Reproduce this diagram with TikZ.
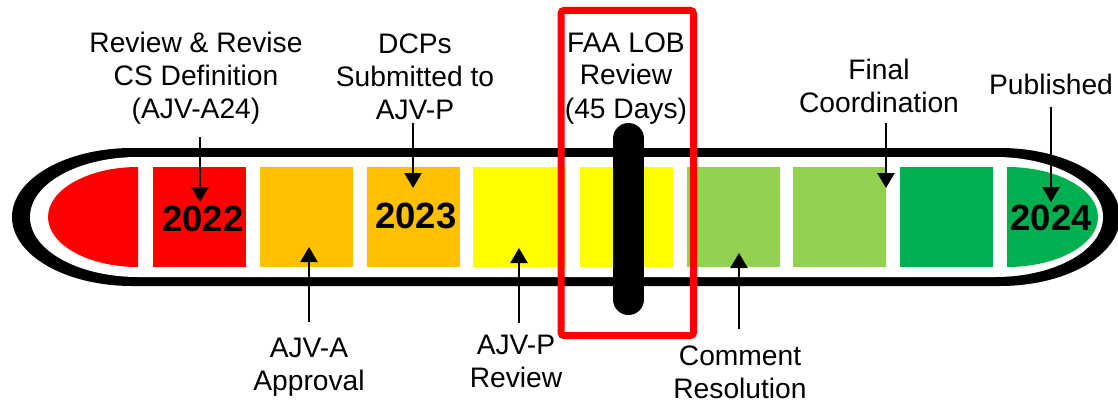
\documentclass[tikz,border=0pt]{standalone}
\usepackage{fontspec}
\setmainfont{Liberation Sans}
\usetikzlibrary{arrows.meta}
\definecolor{cred}{HTML}{FF0000}
\definecolor{corange}{HTML}{FFC000}
\definecolor{cyellow}{HTML}{FFFF00}
\definecolor{clgreen}{HTML}{92D050}
\definecolor{cgreen}{HTML}{00B050}
\tikzset{
  lbl/.style={font=\fontsize{28.2}{33}\selectfont, align=center, inner sep=0pt},
  yr/.style={font=\fontsize{36.5}{40}\selectfont\bfseries, inner sep=0pt, anchor=base},
  arr/.style={line width=2.4pt, -{Triangle[width=17pt,length=15pt]}},
  seg/.style={fill=#1, draw=none},
}
\begin{document}
\begin{tikzpicture}[x=1pt,y=-1pt]
\useasboundingbox (0,0) rectangle (1118,401);
% outer ring
\fill[black] (132,148) -- (1000,148) arc[start angle=-90,end angle=90,x radius=120,y radius=69]
  -- (132,286) arc[start angle=90,end angle=270,x radius=120,y radius=69] -- cycle;
\fill[white] (138,157) -- (995,157) arc[start angle=-90,end angle=90,x radius=108,y radius=60]
  -- (138,277) arc[start angle=90,end angle=270,x radius=108,y radius=60] -- cycle;
% end caps
\fill[cred] (138,167) arc[start angle=270,end angle=90,x radius=90,y radius=50] -- cycle;
\fill[cgreen] (1007,167) arc[start angle=-90,end angle=90,x radius=91,y radius=50] -- cycle;
% segments
\foreach \x/\c in {153/cred,260/corange,367/corange,473/cyellow,580/cyellow,687/clgreen,793/clgreen,900/cgreen}{
  \fill[seg=\c] (\x,167) rectangle ++(93,100);
}
% black bar
\draw[line width=31pt, line cap=round] (628.5,138.5) -- (628.5,299.5);
% year labels
\node[yr] (y22) at (203,231) {2022};
\node[yr] (y23) at (416,228) {2023};
\node[yr] (y24) at (1051,230) {2024};
% text labels
\node[lbl] (rev) at (196,78.9) {Review \& Revise\strut\\CS Definition\strut\\(AJV-A24)\strut};
\node[lbl] (dcp) at (415,79.9) {DCPs\strut\\Submitted to\strut\\AJV-P\strut};
\node[lbl] (faa) at (626,78.4) {FAA LOB\strut\\Review\strut\\(45 Days)\strut};
\node[lbl] (fin) at (879,89.4) {Final\strut\\Coordination\strut};
\node[lbl] (pub) at (1051,88.4) {Published\strut};
\node[lbl] (aja) at (309,367.4) {AJV-A\strut\\Approval\strut};
\node[lbl] (ajp) at (516,363.9) {AJV-P\strut\\Review\strut};
\node[lbl] (com) at (740,374.9) {Comment\strut\\Resolution\strut};
% arrow tips
\coordinate (t1) at (200,202);
\coordinate (t2) at (413,188);
\coordinate (t3) at (886,188);
\coordinate (t4) at (1051,202);
\coordinate (t5) at (309,247);
\coordinate (t6) at (519,248);
\coordinate (t7) at (739,253);
\draw[arr, shorten <=8.6pt] (t1 |- rev.south) -- (t1);
\draw[arr, shorten <=-6.4pt] (t2 |- dcp.south) -- (t2);
\draw[arr, shorten <=0.6pt] (t3 |- fin.south) -- (t3);
\draw[arr, shorten <=2pt] (t4 |- pub.south) -- (t4);
\draw[arr, shorten <=12.4pt] (t5 |- aja.north) -- (t5);
\draw[arr, shorten <=8pt] (t6 |- ajp.north) -- (t6);
\draw[arr, shorten <=13pt] (t7 |- com.north) -- (t7);
% red frame
\draw[cred, line width=7pt, rounded corners=3pt] (561,10.5) rectangle (693.5,335.5);
\end{tikzpicture}
\end{document}
